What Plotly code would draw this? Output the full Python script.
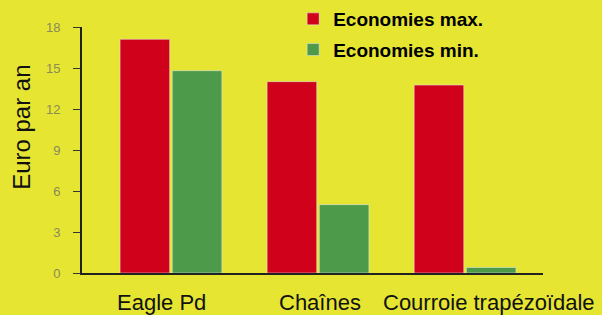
import plotly.graph_objects as go

categories = ["Eagle Pd", "Chaînes", "Courroie trapézoïdale"]
eco_max = [17.1, 14.0, 13.75]
eco_min = [14.8, 5.0, 0.4]
y_ticks = [0, 3, 6, 9, 12, 15, 18]

BG = "#e5e532"
RED = "#d0021b"
GREEN = "#4d9a4a"
FONT = "Liberation Sans, Arial, Helvetica"

fig = go.Figure()
fig.add_trace(go.Bar(name="Economies max.", x=categories, y=eco_max, marker_color=RED,
                     legendgroup="a"))
fig.add_trace(go.Bar(name="Economies min.", x=categories, y=eco_min, marker_color=GREEN,
                     legendgroup="b"))

label_shift = [-9, 2, 24]
for cat, dx in zip(categories, label_shift):
    fig.add_annotation(x=cat, xref="x", y=0, yref="y", yshift=-15, xshift=dx,
                       text=cat, showarrow=False, yanchor="top", xanchor="center",
                       font=dict(family=FONT, size=22, color="#111"))

fig.add_annotation(x=0, xref="paper", xshift=-60, y=0.59, yref="paper",
                   text="Euro par an", textangle=-90, showarrow=False,
                   xanchor="center", yanchor="middle",
                   font=dict(family=FONT, size=24, color="#111"))

fig.update_layout(
    width=602, height=315,
    paper_bgcolor=BG, plot_bgcolor=BG,
    margin=dict(l=82, r=59, t=27, b=42, autoexpand=False),
    barmode="group", bargap=0.29, bargroupgap=0.05,
    showlegend=True,
    legend=dict(x=0.458, y=1.0, xref="paper", yref="container", xanchor="left", yanchor="top",
                bgcolor="rgba(0,0,0,0)",
                font=dict(family=FONT, size=19, color="#000", weight="bold"),
                itemwidth=30, tracegroupgap=3),
    xaxis=dict(range=[-0.605, 2.53], showticklabels=False, showline=True,
               linecolor="#222", linewidth=2, ticks="", showgrid=False, zeroline=False),
    yaxis=dict(range=[0, 18], tickvals=y_ticks, showline=True, linecolor="#222", linewidth=2,
               ticks="outside", ticklen=7, tickcolor="#333", showgrid=False, zeroline=False,
               ticklabelstandoff=10,
               tickfont=dict(family=FONT, size=13, color="#8a8a5a")),
)

fig.write_html("out.html", config={"displayModeBar": False},
               post_script="document.body.style.margin='0';document.body.style.background='" + BG + "';")
